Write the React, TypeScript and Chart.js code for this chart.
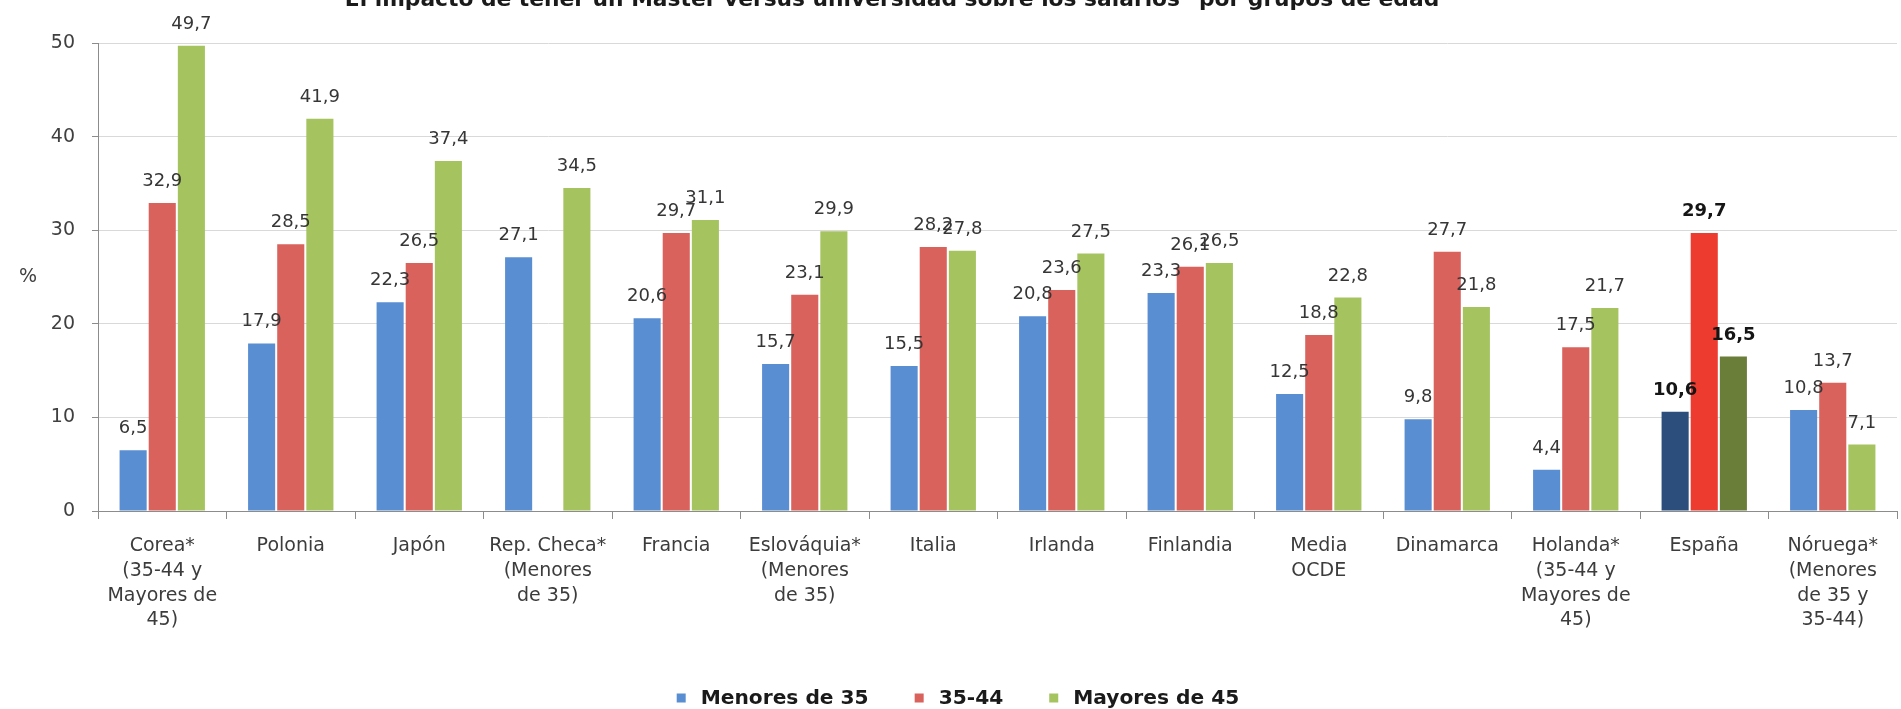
import React, { useEffect, useRef } from "react";
import { Chart, registerables } from "chart.js";

Chart.register(...registerables);

// ---- Data ----
const categories: string[][] = [
  ["Corea*", "(35-44 y", "Mayores de", "45)"],
  ["Polonia"],
  ["Japón"],
  ["Rep. Checa*", "(Menores", "de 35)"],
  ["Francia"],
  ["Eslováquia*", "(Menores", "de 35)"],
  ["Italia"],
  ["Irlanda"],
  ["Finlandia"],
  ["Media", "OCDE"],
  ["Dinamarca"],
  ["Holanda*", "(35-44 y", "Mayores de", "45)"],
  ["España"],
  ["Nóruega*", "(Menores", "de 35 y", "35-44)"],
];
const highlightCategory = "España";
const seriesLabels = ["Menores de 35", "35-44", "Mayores de 45"];
const menores35: (number | null)[] = [6.5, 17.9, 22.3, 27.1, 20.6, 15.7, 15.5, 20.8, 23.3, 12.5, 9.8, 4.4, 10.6, 10.8];
const de35a44: (number | null)[] = [32.9, 28.5, 26.5, null, 29.7, 23.1, 28.2, 23.6, 26.1, 18.8, 27.7, 17.5, 29.7, 13.7];
const mayores45: (number | null)[] = [49.7, 41.9, 37.4, 34.5, 31.1, 29.9, 27.8, 27.5, 26.5, 22.8, 21.8, 21.7, 16.5, 7.1];
const yMin = 0;
const yMax = 50;
const yStep = 10;
const titleText = "El impacto de tener un Máster versus universidad sobre los salarios* por grupos de edad";
const yUnit = "%";

// ---- Styles ----
const seriesColors = ["#5A8ED2", "#D9625D", "#A5C35F"];
const highlightColors = ["#2B4E7C", "#EE3B2F", "#6A7E3A"];
const FONT = '"DejaVu Sans", sans-serif';

const W = 1901;
const H = 709;

export default function App() {
  const ref = useRef<HTMLCanvasElement | null>(null);

  useEffect(() => {
    if (!ref.current) return;
    const firstNames = categories.map((c) => c[0]);
    const seriesData = [menores35, de35a44, mayores45];

    const datasets = seriesData.map((data, si) => ({
      label: seriesLabels[si],
      data,
      backgroundColor: firstNames.map((n) => (n === highlightCategory ? highlightColors[si] : seriesColors[si])),
      borderWidth: 0,
      categoryPercentage: 0.68,
      barPercentage: 0.93,
    }));

    const valueLabels = {
      id: "valueLabels",
      afterDatasetsDraw(chart: any) {
        const ctx = chart.ctx;
        chart.data.datasets.forEach((ds: any, di: number) => {
          const meta = chart.getDatasetMeta(di);
          meta.data.forEach((bar: any, i: number) => {
            const v = ds.data[i];
            if (v == null) return;
            const hi = firstNames[i] === highlightCategory;
            ctx.save();
            ctx.font = `${hi ? "bold " : ""}18px ${FONT}`;
            ctx.fillStyle = hi ? "#151515" : "#363636";
            ctx.textAlign = "center";
            ctx.textBaseline = "alphabetic";
            ctx.fillText(Number(v).toFixed(1).replace(".", ","), bar.x, bar.y - 17);
            ctx.restore();
          });
        });
      },
    };

    const decorations = {
      id: "decorations",
      afterDraw(chart: any) {
        const ctx = chart.ctx;
        const area = chart.chartArea;
        // Title (clipped at the top, as in the reference)
        ctx.save();
        let size = 20;
        ctx.font = `bold ${size}px ${FONT}`;
        const w = ctx.measureText(titleText).width;
        size = (size * 1095) / w;
        ctx.font = `bold ${size}px ${FONT}`;
        ctx.fillStyle = "#1a1a1a";
        ctx.textAlign = "center";
        ctx.textBaseline = "alphabetic";
        ctx.fillText(titleText, 892, 6);
        ctx.restore();

        // Unit label
        ctx.save();
        ctx.font = `19px ${FONT}`;
        ctx.fillStyle = "#404040";
        ctx.textAlign = "center";
        ctx.textBaseline = "middle";
        ctx.fillText(yUnit, 28, (area.top + area.bottom) / 2);
        ctx.restore();

        // Legend
        ctx.save();
        let lsize = 19;
        ctx.font = `bold ${lsize}px ${FONT}`;
        const ref0 = ctx.measureText(seriesLabels[0]).width;
        lsize = (lsize * 168) / ref0;
        ctx.font = `bold ${lsize}px ${FONT}`;
        const box = 9;
        const gapBoxText = 15;
        const gapItems = 46;
        const widths = seriesLabels.map((l) => ctx.measureText(l).width);
        const total = widths.reduce((a, b) => a + b, 0) + seriesLabels.length * (box + gapBoxText) + gapItems * (seriesLabels.length - 1);
        let x = 958 - total / 2;
        const cy = 698;
        seriesLabels.forEach((l, i) => {
          ctx.fillStyle = seriesColors[i];
          ctx.fillRect(x, cy - 4.5, box, box);
          x += box + gapBoxText;
          ctx.fillStyle = "#1a1a1a";
          ctx.textAlign = "left";
          ctx.textBaseline = "middle";
          ctx.fillText(l, x, cy + 1);
          x += widths[i] + gapItems;
        });
        ctx.restore();
      },
    };

    const chart = new Chart(ref.current, {
      type: "bar",
      data: { labels: categories, datasets },
      plugins: [valueLabels, decorations],
      options: {
        animation: false,
        responsive: false,
        maintainAspectRatio: false,
        layout: { padding: { top: 43, right: 4, bottom: 0, left: 0 } },
        plugins: {
          legend: { display: false },
          title: { display: false },
          tooltip: { enabled: false },
        },
        scales: {
          x: {
            afterFit: (s: any) => {
              s.height = 198;
            },
            grid: {
              drawOnChartArea: false,
              drawTicks: true,
              tickLength: 8,
              color: "#8c8c8c",
              offset: true,
            },
            border: { color: "#8c8c8c", width: 1 },
            ticks: {
              autoSkip: false,
              maxRotation: 0,
              minRotation: 0,
              padding: 15,
              color: "#3c3c3c",
              font: { family: FONT, size: 19, lineHeight: 1.3 },
            },
          },
          y: {
            min: yMin,
            max: yMax,
            afterFit: (s: any) => {
              s.width = 98;
            },
            grid: {
              color: "#d9d9d9",
              drawTicks: true,
              tickLength: 6,
              tickColor: "#8c8c8c",
            },
            border: { color: "#8c8c8c", width: 1 },
            ticks: {
              stepSize: yStep,
              padding: 17,
              color: "#404040",
              font: { family: FONT, size: 19 },
            },
          },
        },
      },
    } as any);

    return () => chart.destroy();
  }, []);

  return (
    <div style={{ position: "absolute", left: 0, top: 0, width: W, height: H, background: "#ffffff" }}>
      <canvas ref={ref} width={W} height={H} style={{ display: "block", width: W, height: H }} />
    </div>
  );
}
